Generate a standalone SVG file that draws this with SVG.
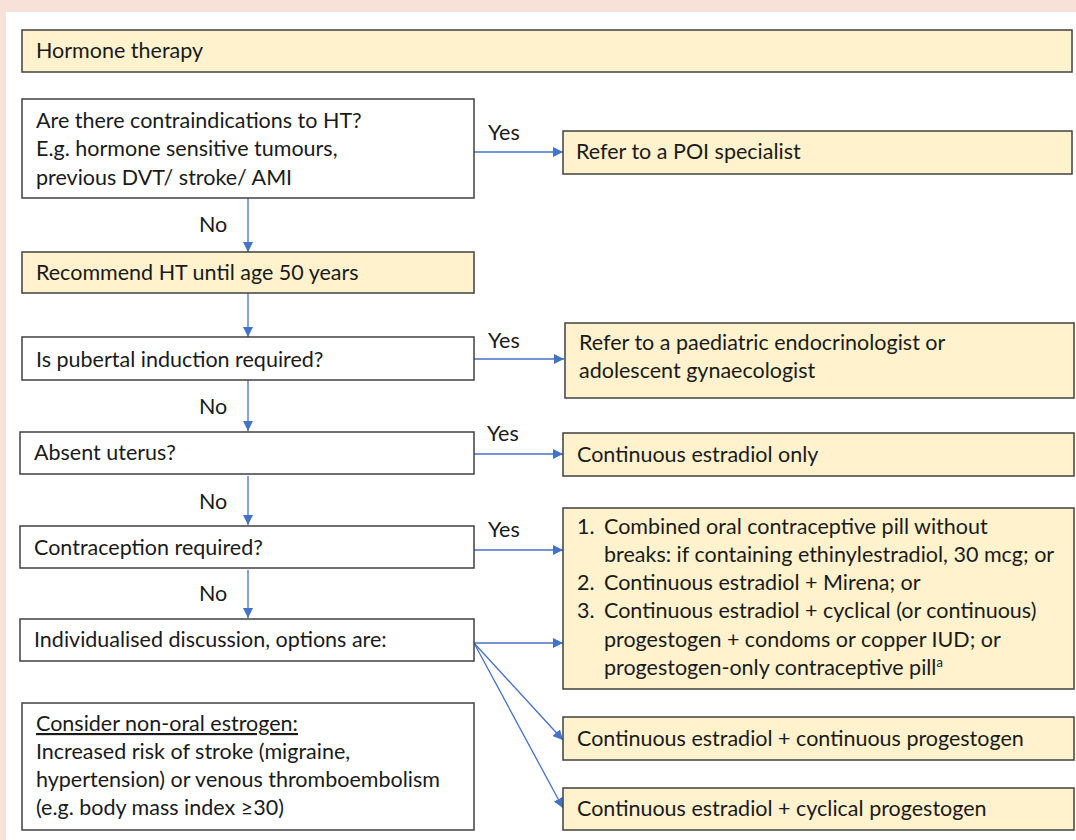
<svg xmlns="http://www.w3.org/2000/svg" width="1076" height="840" viewBox="0 0 1076 840">
<defs>
<style>
.box{stroke:#404040;stroke-width:1.5}
.y{fill:#fff2cc}
.w{fill:#ffffff}
text{font-family:Lato,"Open Sans","Liberation Sans",sans-serif;font-size:21.5px;fill:#1a1a1a}
.c{stroke:#4472c4;stroke-width:1.3;fill:none}
</style>
<marker id="ah" viewBox="0 0 10 10" refX="10" refY="5" markerWidth="10" markerHeight="10" markerUnits="userSpaceOnUse" orient="auto">
<path d="M0,0 L10,5 L0,10 z" fill="#4472c4"/>
</marker>
</defs>
<rect x="0" y="0" width="1076" height="840" fill="#f8e1d8"/>
<rect x="6" y="12" width="1070" height="828" fill="#ffffff"/>

<g id="connectors">
<path class="c" d="M474,152 L563,152" marker-end="url(#ah)"/>
<path class="c" d="M248,198 L248,252" marker-end="url(#ah)"/>
<path class="c" d="M248,293 L248,337" marker-end="url(#ah)"/>
<path class="c" d="M474,359 L564,359" marker-end="url(#ah)"/>
<path class="c" d="M248,380 L248,431" marker-end="url(#ah)"/>
<path class="c" d="M474,454 L563,454" marker-end="url(#ah)"/>
<path class="c" d="M248,476 L248,525" marker-end="url(#ah)"/>
<path class="c" d="M474,550 L563,550" marker-end="url(#ah)"/>
<path class="c" d="M248,570 L248,618" marker-end="url(#ah)"/>
<path class="c" d="M474,643 L563,643" marker-end="url(#ah)"/>
<path class="c" d="M474,643 L563,740" marker-end="url(#ah)"/>
<path class="c" d="M474,643 L563,808" marker-end="url(#ah)"/>
<text x="488" y="140">Yes</text>
<text x="199" y="232">No</text>
<text x="488" y="348">Yes</text>
<text x="199" y="414">No</text>
<text x="487" y="441">Yes</text>
<text x="199" y="509">No</text>
<text x="488" y="537">Yes</text>
<text x="199" y="601">No</text>
</g>

<g id="n-hormone">
<rect class="box y" x="22" y="30" width="1050" height="42"/>
<text x="36" y="58">Hormone therapy</text>
</g>
<g id="n-contra">
<rect class="box w" x="22" y="99" width="452" height="99"/>
<text x="36" y="128">Are there contraindications to HT?</text>
<text x="36" y="156">E.g. hormone sensitive tumours,</text>
<text x="36" y="185">previous DVT/ stroke/ AMI</text>
</g>
<g id="n-poi">
<rect class="box y" x="563" y="131" width="509" height="43"/>
<text x="576" y="159">Refer to a POI specialist</text>
</g>
<g id="n-recommend">
<rect class="box y" x="22" y="252" width="452" height="41"/>
<text x="36" y="280">Recommend HT until age 50 years</text>
</g>
<g id="n-pubertal">
<rect class="box w" x="22" y="337" width="452" height="43"/>
<text x="36" y="367">Is pubertal induction required?</text>
</g>
<g id="n-paed">
<rect class="box y" x="565" y="323" width="509" height="75"/>
<text x="579" y="350">Refer to a paediatric endocrinologist or</text>
<text x="579" y="378">adolescent gynaecologist</text>
</g>
<g id="n-uterus">
<rect class="box w" x="20" y="432" width="454" height="42"/>
<text x="34" y="460">Absent uterus?</text>
</g>
<g id="n-estradiol-only">
<rect class="box y" x="563" y="433" width="511" height="43"/>
<text x="577" y="462">Continuous estradiol only</text>
</g>
<g id="n-contraception">
<rect class="box w" x="20" y="526" width="454" height="42"/>
<text x="34" y="555">Contraception required?</text>
</g>
<g id="n-options">
<rect class="box y" x="563" y="508" width="511" height="181"/>
<text x="577" y="534">1.</text>
<text x="604" y="534">Combined oral contraceptive pill without</text>
<text x="604" y="562">breaks: if containing ethinylestradiol, 30 mcg; or</text>
<text x="577" y="590">2.</text>
<text x="604" y="590">Continuous estradiol + Mirena; or</text>
<text x="577" y="618">3.</text>
<text x="604" y="618">Continuous estradiol + cyclical (or continuous)</text>
<text x="604" y="647">progestogen + condoms or copper IUD; or</text>
<text x="604" y="675">progestogen-only contraceptive pill<tspan font-size="13" dy="-8">a</tspan></text>
</g>
<g id="n-individual">
<rect class="box w" x="20" y="619" width="454" height="42"/>
<text x="34" y="647">Individualised discussion, options are:</text>
</g>
<g id="n-nonoral">
<rect class="box w" x="22" y="703" width="452" height="127"/>
<text x="36" y="731" text-decoration="underline">Consider non-oral estrogen:</text>
<text x="36" y="759">Increased risk of stroke (migraine,</text>
<text x="36" y="787">hypertension) or venous thromboembolism</text>
<text x="36" y="815">(e.g. body mass index ≥30)</text>
</g>
<g id="n-cont-cont">
<rect class="box y" x="563" y="717" width="511" height="43"/>
<text x="577" y="746">Continuous estradiol + continuous progestogen</text>
</g>
<g id="n-cont-cyc">
<rect class="box y" x="563" y="788" width="511" height="42"/>
<text x="577" y="816">Continuous estradiol + cyclical progestogen</text>
</g>
</svg>
